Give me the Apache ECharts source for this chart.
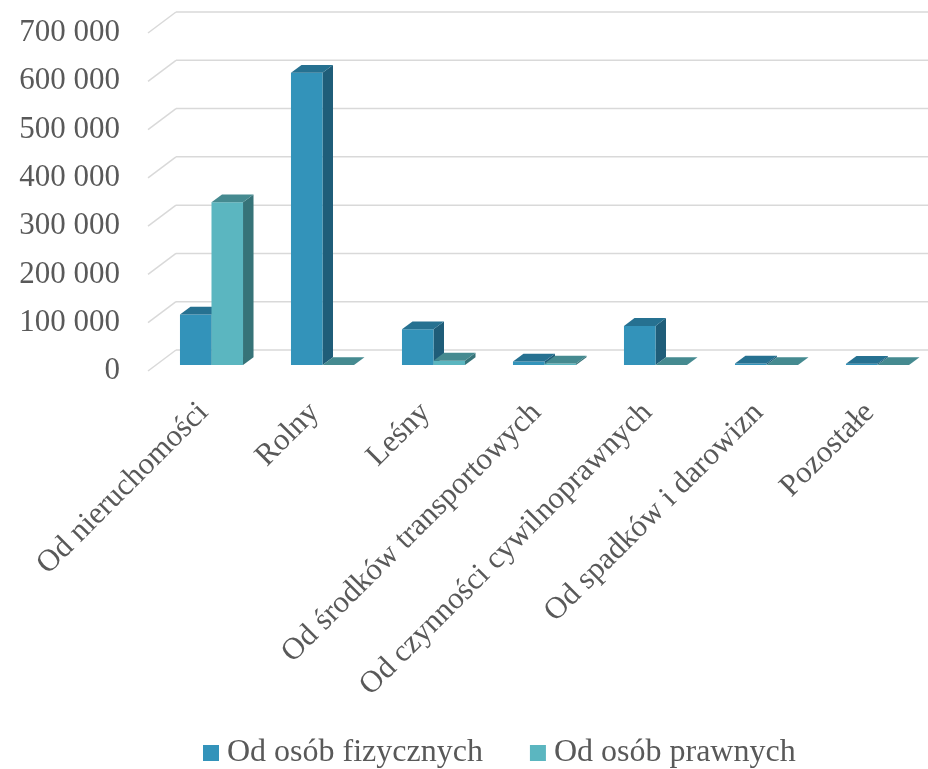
<!DOCTYPE html>
<html>
<head>
<meta charset="utf-8">
<script src="https://cdn.jsdelivr.net/npm/echarts@6/dist/echarts.min.js"></script>
<style>
html,body{margin:0;padding:0;background:#fff;}
#chart{width:928px;height:769px;}
</style>
</head>
<body>
<div id="chart"></div>
<script>
const categories = ['Od nieruchomości','Rolny','Leśny','Od środków transportowych','Od czynności cywilnoprawnych','Od spadków i darowizn','Pozostałe'];
const fizyczne = [104500, 605000, 74000, 7000, 81000, 3000, 2500];
const prawne = [337000, 0, 9000, 3000, 0, 0, 0];
const yTicks = [0, 100000, 200000, 300000, 400000, 500000, 600000, 700000];
const seriesNames = ['Od osób fizycznych', 'Od osób prawnych'];

const FONT = '"Liberation Serif","Times New Roman",serif';
const WALL_DX = 28, WALL_DY = 21;
const BAR_OFF_X = 8, BAR_OFF_Y = 6;
const BAR_DX = 10.5, BAR_DY = 7.8;

const palettes = [
  {front:'#3393BA', top:'#267191', side:'#1F5D79'},
  {front:'#5BB6C0', top:'#458A90', side:'#367378'}
];

function fmt(v){ return String(v).replace(/\B(?=(\d{3})+(?!\d))/g, ' '); }

function wallRender(params, api){
  const cs = params.coordSys;
  const y = api.coord([0, api.value(0)])[1];
  const left = cs.x, right = cs.x + cs.width;
  const style = {stroke:'#D9D9D9', lineWidth:1.5, fill:null};
  return {type:'group', children:[
    {type:'line', shape:{x1:left, y1:y, x2:left+WALL_DX, y2:y-WALL_DY}, style:style},
    {type:'line', shape:{x1:left+WALL_DX, y1:y-WALL_DY, x2:right+WALL_DX, y2:y-WALL_DY}, style:style}
  ]};
}

function makeBarRender(s){
  const pal = palettes[s];
  return function(params, api){
    const i = api.value(0), v = api.value(1);
    const base = api.coord([i, 0]);
    const top = api.coord([i, v]);
    const bandW = api.size([1, 0])[0];
    const bw = bandW * 0.284;
    const x0 = base[0] - bw + s*bw + BAR_OFF_X;
    const x1 = x0 + bw;
    const by = base[1] - BAR_OFF_Y;
    const ty = top[1] - BAR_OFF_Y;
    return {type:'group', children:[
      {type:'polygon', shape:{points:[[x1,ty],[x1+BAR_DX,ty-BAR_DY],[x1+BAR_DX,by-BAR_DY],[x1,by]]}, style:{fill:pal.side}},
      {type:'rect', shape:{x:x0, y:ty, width:bw, height:Math.max(by-ty,0)}, style:{fill:pal.front}},
      {type:'polygon', shape:{points:[[x0,ty],[x1,ty],[x1+BAR_DX,ty-BAR_DY],[x0+BAR_DX,ty-BAR_DY]]}, style:{fill:pal.top}}
    ]};
  };
}

const chart = echarts.init(document.getElementById('chart'), null, {renderer:'canvas'});
chart.setOption({
  backgroundColor:'#ffffff',
  animation:false,
  grid:{left:148, right:3, top:33, bottom:398, containLabel:false},
  legend:{
    data:seriesNames,
    left:198, top:732,
    itemWidth:16, itemHeight:16, itemGap:47,
    icon:'rect',
    textStyle:{fontFamily:FONT, fontSize:32, color:'#595959', lineHeight:32, padding:[0,0,0,3]}
  },
  xAxis:{
    type:'category', data:categories,
    axisLine:{show:false}, axisTick:{show:false}, splitLine:{show:false},
    axisLabel:{rotate:45, interval:0, margin:37, fontFamily:FONT, fontSize:31, color:'#595959'}
  },
  yAxis:{
    type:'value', min:0, max:700000, interval:100000,
    axisLine:{show:false}, axisTick:{show:false}, splitLine:{show:false},
    axisLabel:{margin:28, fontFamily:FONT, fontSize:31, color:'#595959', formatter:fmt}
  },
  series:[
    {type:'custom', name:'wall', renderItem:wallRender, data:yTicks.map(v=>[v]), encode:{y:0}, silent:true, z:1},
    {type:'custom', name:seriesNames[0], renderItem:makeBarRender(0), itemStyle:{color:palettes[0].front},
      data:fizyczne.map((v,i)=>[i,v]), encode:{x:0,y:1}, z:2},
    {type:'custom', name:seriesNames[1], renderItem:makeBarRender(1), itemStyle:{color:palettes[1].front},
      data:prawne.map((v,i)=>[i,v]), encode:{x:0,y:1}, z:3}
  ]
});
</script>
</body>
</html>
